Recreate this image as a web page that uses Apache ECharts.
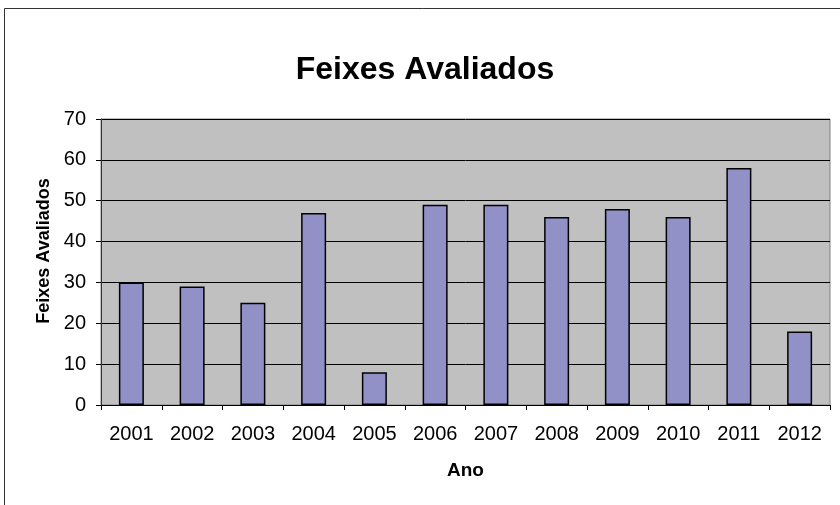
<!DOCTYPE html>
<html>
<head>
<meta charset="utf-8">
<script src="https://cdn.jsdelivr.net/npm/echarts@6/dist/echarts.min.js"></script>
<style>
  html, body { margin: 0; padding: 0; background: #fff; }
  #chart { width: 840px; height: 505px; }
</style>
</head>
<body>
<div id="chart"></div>
<script>
var anos = ["2001", "2002", "2003", "2004", "2005", "2006", "2007", "2008", "2009", "2010", "2011", "2012"];
var feixes = [30, 29, 25, 47, 8, 49, 49, 46, 48, 46, 58, 18];

var myChart = echarts.init(document.getElementById("chart"));
var font = "Liberation Sans, Arial, sans-serif";
var option = {
  animation: false,
  title: {
    text: "Feixes Avaliados",
    left: 420,
    textAlign: "center",
    top: 49,
    textStyle: { fontFamily: font, fontSize: 32, fontWeight: "bold", color: "#000" },
  },
  graphic: [
    {
      type: "rect",
      shape: { x: 4.5, y: 8.5, width: 850, height: 520 },
      style: { fill: "none", stroke: "#333", lineWidth: 1 },
      silent: true,
    },
  ],
  grid: {
    left: 101,
    right: 10,
    top: 119,
    bottom: 100,
    show: true,
    backgroundColor: "#c0c0c0",
    borderColor: "#808080",
    borderWidth: 1,
  },
  xAxis: {
    type: "category",
    data: anos,
    name: "Ano",
    nameLocation: "middle",
    nameGap: 56,
    nameTextStyle: { fontFamily: font, fontSize: 19, fontWeight: "bold", color: "#000" },
    axisLine: { lineStyle: { color: "#000" } },
    axisTick: { show: true, length: 5, lineStyle: { color: "#000" } },
    axisLabel: { fontFamily: font, fontSize: 20, color: "#000", margin: 19 },
  },
  yAxis: {
    type: "value",
    min: 0,
    max: 70,
    interval: 10,
    name: "Feixes Avaliados",
    nameLocation: "middle",
    nameGap: 47,
    nameTextStyle: {
      fontFamily: font,
      fontSize: 18,
      fontWeight: "bold",
      color: "#000",
      padding: [0, 0, 0, 22],
    },
    axisLine: { show: true, lineStyle: { color: "#333" } },
    axisTick: { show: true, length: 5, lineStyle: { color: "#000" } },
    axisLabel: { fontFamily: font, fontSize: 20, color: "#000", margin: 15 },
    splitLine: { lineStyle: { color: "#000", width: 1 } },
  },
  series: [
    {
      type: "bar",
      data: feixes,
      barWidth: 25,
      itemStyle: { color: "#9191c8", borderColor: "#000", borderWidth: 1.5 },
    },
  ],
};
myChart.setOption(option);
</script>
</body>
</html>
